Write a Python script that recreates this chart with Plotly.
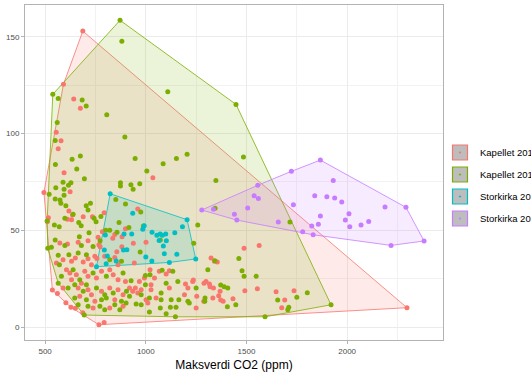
import plotly.graph_objects as go

# ---------------- data ----------------
groups = ["Kapellet 2016", "Kapellet 2017", "Storkirka 2016", "Storkirka 2017"]
colors = ["#F8766D", "#7CAE00", "#00BFC4", "#C77CFF"]

kap16_x = [687, 591, 494, 536, 767, 2297, 642, 675, 555, 579, 565, 594, 1035, 624, 618, 636, 611, 631, 689, 516,
           511, 735, 793, 784, 763, 846, 899, 882, 573, 611, 664, 713, 767, 589, 631, 650, 689, 713, 730, 747,
           796, 846, 862, 556, 606, 623, 655, 697, 713, 755, 780, 821, 838, 862, 899, 631, 680, 589, 664, 713,
           730, 780, 821, 862, 887, 672, 747, 846, 738, 821, 887, 938, 1001, 943, 1067, 1101, 1021, 993, 1043, 968,
           919, 948, 977, 1026, 1026, 1117, 1197, 1233, 1209, 1299, 1316, 1336, 1324, 1341, 1117, 935, 960, 1001, 1051, 1192,
           1253, 1288, 1333, 1010, 1250, 1488, 1563, 1355, 1492, 1554, 1369, 1362, 1372, 1384, 1433, 1647, 1690, 1675, 1736, 1236,
           1289, 1319, 561, 603, 628, 650, 687, 793, 960, 856, 836, 881, 773, 757]
kap16_y = [153.0, 125.5, 69.6, 19.1, 1.2, 10.0, 117.9, 113.1, 100.7, 96.3, 92.2, 79.8, 77.2, 70.0, 60.0, 57.9, 55.7, 55.5, 57.0, 56.5,
           54.6, 57.0, 59.1, 49.3, 46.4, 47.9, 50.8, 46.7, 43.4, 42.9, 43.9, 44.6, 42.5, 34.8, 34.0, 35.7, 33.6, 35.3, 32.2, 36.6,
           36.6, 36.0, 32.2, 33.1, 29.6, 27.9, 27.0, 28.8, 26.2, 25.3, 28.8, 29.6, 27.0, 24.5, 23.6, 24.5, 22.7, 20.2, 20.2, 19.3,
           16.7, 18.5, 20.2, 19.3, 16.7, 15.9, 13.3, 14.1, 9.8, 9.8, 10.7, 43.3, 43.9, 33.1, 28.8, 27.4, 29.6, 25.3, 25.3, 23.6,
           20.2, 20.2, 19.3, 21.9, 19.3, 20.2, 22.2, 23.6, 20.2, 23.6, 22.2, 20.2, 35.7, 34.0, 29.1, 18.5, 17.6, 14.1, 15.0, 16.7,
           15.9, 13.3, 15.0, 12.4, 9.8, 40.8, 42.2, 33.6, 18.8, 19.8, 18.5, 16.2, 14.0, 13.3, 14.6, 18.3, 14.0, 10.0, 18.8, 24.3,
           22.6, 20.8, 17.4, 12.6, 10.2, 9.7, 7.4, 2.4, 61.0, 38.9, 45.9, 41.5, 41.5, 35.5]

kap17_x = [872, 1448, 1920, 1592, 694, 513, 538, 565, 684, 704, 806, 560, 550, 896, 1109, 881, 947, 1152, 1205, 1086,
           1005, 1348, 1485, 634, 675, 657, 695, 589, 628, 616, 551, 874, 874, 926, 970, 937, 553, 594, 594, 550,
           520, 578, 603, 704, 713, 725, 639, 598, 667, 679, 743, 753, 777, 546, 570, 510, 718, 670, 801, 821,
           857, 851, 867, 899, 531, 598, 680, 738, 773, 565, 618, 664, 705, 821, 879, 571, 639, 672, 738, 804,
           887, 581, 647, 705, 565, 614, 689, 755, 796, 838, 904, 647, 705, 780, 804, 879, 664, 713, 772, 796,
           846, 871, 902, 972, 1072, 1081, 1134, 1021, 998, 927, 998, 1101, 1159, 1250, 1308, 1238, 919, 977, 1018, 1076,
           1076, 1126, 1164, 1216, 1209, 1294, 1293, 977, 952, 1072, 1122, 1150, 1018, 1101, 1147, 1462, 1478, 1488, 1548, 1343,
           1372, 1389, 1407, 1405, 1447, 1655, 1710, 1705, 1750, 1802, 1716, 1344, 1258, 975, 916, 988, 550, 574]
kap17_y = [158.6, 115.1, 11.5, 5.3, 6.2, 40.7, 120.3, 118.2, 117.4, 114.3, 109.8, 105.8, 96.5, 98.2, 121.6, 147.7, 87.2, 87.2, 89.4, 84.4,
           80.7, 75.8, 87.9, 86.7, 88.4, 81.7, 76.7, 74.8, 74.6, 73.3, 84.1, 74.6, 72.9, 73.6, 74.1, 71.2, 72.0, 71.3, 68.2, 66.2,
           68.6, 64.0, 62.7, 62.7, 60.5, 64.0, 58.3, 56.2, 54.1, 52.4, 56.2, 54.4, 57.2, 52.7, 51.9, 54.8, 48.8, 46.7, 50.1, 50.0,
           49.0, 66.0, 54.1, 63.6, 41.2, 42.2, 42.2, 41.7, 44.6, 37.1, 37.4, 38.3, 37.4, 34.8, 34.0, 32.2, 29.6, 24.5, 27.9, 26.2,
           27.9, 26.2, 21.9, 21.9, 22.7, 20.2, 18.5, 20.2, 16.7, 17.6, 18.5, 15.0, 14.1, 14.1, 15.0, 13.3, 11.5, 10.7, 10.7, 8.9,
           11.5, 8.9, 12.4, 38.8, 45.0, 29.3, 28.8, 27.0, 26.7, 23.9, 21.9, 22.7, 23.6, 20.2, 29.6, 43.3, 15.9, 16.7, 15.0, 17.6,
           14.1, 14.1, 14.1, 12.4, 13.3, 15.0, 13.3, 11.5, 11.9, 9.8, 10.2, 10.2, 7.8, 6.9, 5.3, 35.5, 29.1, 26.2, 26.2, 34.3,
           21.7, 20.8, 20.2, 10.5, 11.5, 14.0, 10.2, 8.9, 15.4, 17.7, 54.3, 61.4, 52.7, 59.5, 51.5, 52.2, 45.0, 65.7]

stk16_x = [823, 1205, 1248, 755, 935, 985, 992, 930, 892, 1031, 1055, 1071, 1082, 1099, 1066, 1102, 1144, 1182, 1092, 1154,
           1117, 1030, 1000, 906, 889, 853, 799, 794, 809, 803, 1087]
stk16_y = [68.9, 55.5, 35.2, 31.2, 58.8, 50.5, 52.4, 48.1, 48.1, 49.0, 47.4, 48.1, 47.4, 48.1, 44.8, 44.6, 48.8, 51.9, 37.9, 37.6,
           33.4, 34.1, 36.2, 40.0, 39.8, 34.1, 47.6, 39.8, 36.7, 32.7, 41.9]

stk17_x = [1278, 1336, 1440, 1452, 1538, 1559, 1556, 1658, 1723, 1867, 1931, 1839, 1899, 1938, 1973, 1733, 2188, 2292, 1867, 2009,
           1991, 1857, 1824, 2069, 2107, 2013, 1779, 1831, 2218, 2382, 1506]
stk17_y = [60.5, 60.9, 58.3, 55.3, 67.9, 66.5, 73.3, 54.3, 80.5, 86.3, 75.8, 67.9, 67.4, 66.7, 64.6, 63.2, 62.0, 61.9, 57.4, 58.6,
           55.3, 53.1, 52.2, 52.7, 54.6, 51.9, 49.3, 47.7, 42.2, 44.5, 61.5]

xs = [kap16_x, kap17_x, stk16_x, stk17_x]
ys = [kap16_y, kap17_y, stk16_y, stk17_y]

x_ticks = [500, 1000, 1500, 2000]
y_ticks = [0, 50, 100, 150]
x_title = "Maksverdi CO2 (ppm)"


def hull(px, py):
    pts = sorted(set(zip(px, py)))
    if len(pts) < 3:
        return pts

    def cross(o, a, b):
        return (a[0] - o[0]) * (b[1] - o[1]) - (a[1] - o[1]) * (b[0] - o[0])

    lower, upper = [], []
    for p in pts:
        while len(lower) >= 2 and cross(lower[-2], lower[-1], p) <= 0:
            lower.pop()
        lower.append(p)
    for p in reversed(pts):
        while len(upper) >= 2 and cross(upper[-2], upper[-1], p) <= 0:
            upper.pop()
        upper.append(p)
    h = lower[:-1] + upper[:-1]
    return h + [h[0]]


def rgba(hexc, a):
    hexc = hexc.lstrip("#")
    r, g, b = int(hexc[0:2], 16), int(hexc[2:4], 16), int(hexc[4:6], 16)
    return f"rgba({r},{g},{b},{a})"


fig = go.Figure()

# hull polygons
for name, col, gx, gy in zip(groups, colors, xs, ys):
    h = hull(gx, gy)
    fig.add_trace(go.Scatter(
        x=[p[0] for p in h], y=[p[1] for p in h], mode="lines", fill="toself",
        fillcolor=rgba(col, 0.15), line=dict(color=col, width=0.8),
        showlegend=False, hoverinfo="skip", legendgroup=name))

# points
for name, col, gx, gy in zip(groups, colors, xs, ys):
    fig.add_trace(go.Scatter(
        x=gx, y=gy, mode="markers", name=name, legendgroup=name,
        marker=dict(color=col, size=5, line=dict(width=0)), showlegend=False))

# legend keys
for name, col in zip(groups, colors):
    fig.add_trace(go.Scatter(
        x=[None], y=[None], mode="markers", name=name, legendgroup=name,
        marker=dict(symbol="square-dot", size=15, color="#bdbdbd",
                    line=dict(color=col, width=1.2))))

axis_common = dict(
    showgrid=True, gridcolor="#ebebeb", gridwidth=1.1,
    showline=True, linecolor="#b3b3b3", linewidth=1, mirror=True,
    ticks="outside", ticklen=3, tickcolor="#b3b3b3", tickwidth=1,
    tickfont=dict(family="Liberation Sans, Arial", size=8, color="#4d4d4d"),
    zeroline=False,
)

fig.update_layout(
    width=531, height=375,
    margin=dict(l=25, r=88, t=5, b=35, autoexpand=False),
    paper_bgcolor="white", plot_bgcolor="white",
    font=dict(family="Liberation Sans, Arial", color="black"),
    xaxis=dict(range=[400, 2476], tickvals=x_ticks,
               minor=dict(showgrid=True, gridcolor="#f2f2f2", gridwidth=0.6, dtick=250, tick0=0),
               title=dict(text=x_title, font=dict(size=12), standoff=6),
               **axis_common),
    yaxis=dict(range=[-6.7, 166.5], tickvals=y_ticks,
               minor=dict(showgrid=True, gridcolor="#f2f2f2", gridwidth=0.6, dtick=25, tick0=0),
               **axis_common),
    legend=dict(xref="container", yref="container", x=440 / 531, y=1 - 138 / 375,
                xanchor="left", yanchor="top", font=dict(size=9.5, color="black"),
                tracegroupgap=3, bgcolor="rgba(0,0,0,0)", itemsizing="trace"),
)

fig.write_html("out.html", config={"displayModeBar": False},
               post_script="document.body.style.margin='0px';")
